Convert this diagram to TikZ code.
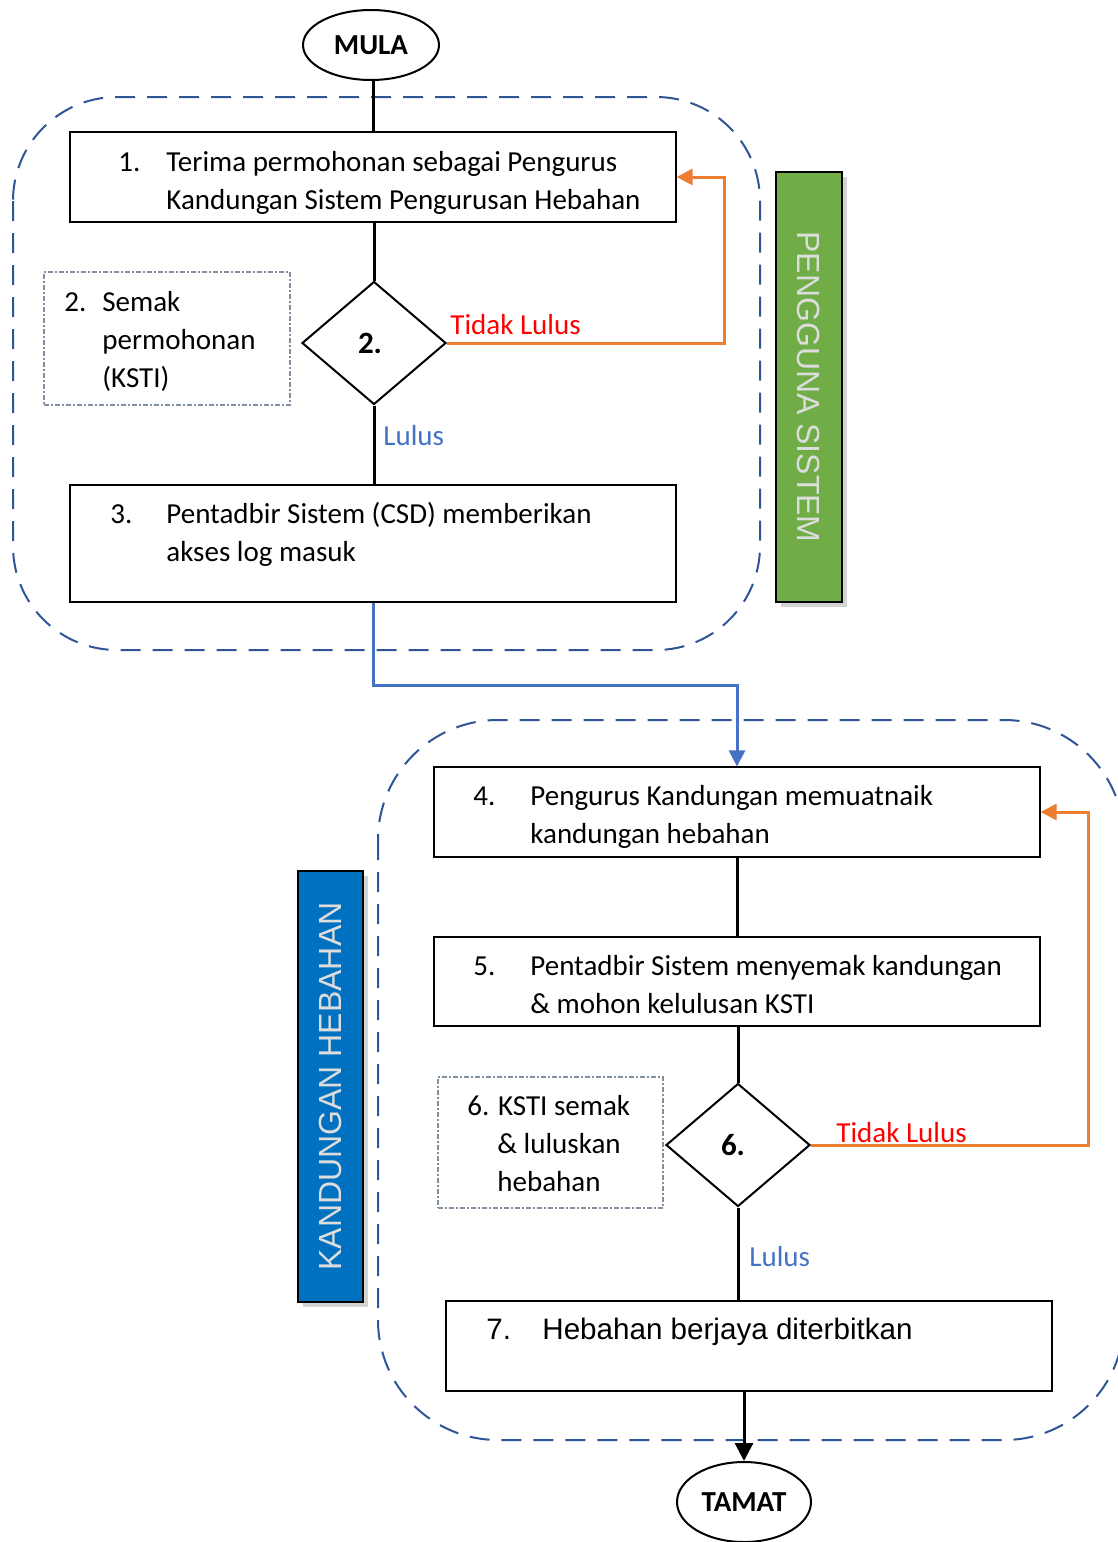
\documentclass[tikz,border=0pt]{standalone}
\usepackage{fontspec}
\setmainfont{Carlito}
\newfontfamily\arialf{Liberation Sans}
\usetikzlibrary{shapes.geometric,arrows.meta,shadows}
\definecolor{dashblue}{HTML}{2F5597}
\definecolor{orangeln}{HTML}{ED7D31}
\definecolor{blueln}{HTML}{4472C4}
\definecolor{greenbox}{HTML}{70AD47}
\definecolor{bluebox}{HTML}{0070C0}
\definecolor{dotgray}{HTML}{8090A0}
\definecolor{lblgray}{HTML}{DDDDDD}
\tikzset{
  body/.style={font=\fontsize{14.5}{19}\selectfont},
  txt/.style={body, anchor=base west, inner sep=0pt, align=left},
  stepbox/.style={draw=black, line width=0.6pt, inner sep=0pt, minimum width=303pt},
  notebox/.style={draw=dotgray, line width=0.6pt, dash pattern=on 2.5pt off 1.2pt on 0.6pt off 1.2pt, inner sep=0pt},
  lanebox/.style={draw=dashblue, line width=1pt, dash pattern=on 10pt off 6pt, rounded corners=52pt},
  decision/.style={diamond, draw=black, line width=1pt, inner sep=0pt, minimum width=72pt, minimum height=61.5pt, font=\fontsize{15.5}{17}\selectfont\bfseries},
  terminal/.style={ellipse, draw=black, line width=1pt, inner sep=0pt, font=\fontsize{14.5}{17}\selectfont\bfseries},
  lanelabel/.style={draw=black, line width=0.8pt, inner sep=0pt, drop shadow={shadow xshift=2.5pt, shadow yshift=-2.5pt, opacity=0.35}},
  lanetext/.style={text=lblgray, font=\arialf\fontsize{16}{18}\selectfont, inner sep=0pt},
  conn/.style={draw=black, line width=1.5pt},
  noflow/.style={draw=orangeln, line width=1.5pt, -{Triangle[length=8pt,width=8pt]}},
  flowblue/.style={draw=blueln, line width=1.5pt, -{Triangle[length=8pt,width=8pt]}},
  yes/.style={text=blueln, body, anchor=base west, inner sep=0pt},
  no/.style={text=red, body, anchor=base west, inner sep=0pt}
}
\begin{document}
\begin{tikzpicture}[x=0.5pt,y=-0.5pt]
\useasboundingbox (0,0) rectangle (1118,1542);
\clip (0,0) rectangle (1118,1542);

% lanes
\draw[lanebox] (13,97) rectangle (760,650);
\draw[lanebox, rounded corners=60pt] (378,720) rectangle (1124,1440);

% terminals
\node[terminal, minimum width=68pt, minimum height=35pt] (mula) at (371,45) {MULA};
\node[terminal, minimum width=67pt, minimum height=40pt] (tamat) at (744,1502) {TAMAT};

% step boxes
\node[stepbox, minimum height=45pt] (b1) at (373,177) {};
\node[stepbox, minimum height=58.5pt] (b3) at (373,543.5) {};
\node[stepbox, minimum height=45pt] (b4) at (737,812) {};
\node[stepbox, minimum height=44.5pt] (b5) at (737,981.5) {};
\node[stepbox, minimum height=45pt] (b7) at (749,1346) {};

% note boxes
\node[notebox, minimum width=123pt, minimum height=66.5pt] (n2) at (167,338.5) {};
\node[notebox, minimum width=112.5pt, minimum height=65.5pt] (n6) at (550.5,1142.5) {};

% decisions
\node[decision] (d2) at (374,343) {\hspace*{-4pt}2.};
\node[decision] (d6) at (738,1145) {\hspace*{-5pt}6.};

% lane labels
\node[lanelabel, fill=greenbox, minimum width=33pt, minimum height=215pt] (g) at (809,387) {};
\node[lanetext, rotate=-90] (gt) at (g.center) {PENGGUNA SISTEM};
\node[lanelabel, fill=bluebox, minimum width=32.5pt, minimum height=215.5pt] (kb) at (330.5,1086.5) {};
\node[lanetext, rotate=90] (kt) at (kb.center) {KANDUNGAN HEBAHAN};

% texts (anchor = baseline of last line)
\node[txt] (t1) at (118,209) {\makebox[24pt][l]{1.}Terima permohonan sebagai Pengurus\\\hspace*{24pt}Kandungan Sistem Pengurusan Hebahan};
\node[txt] (t2) at (64,387) {\makebox[19pt][l]{2.}Semak\\\hspace*{19pt}permohonan\\\hspace*{19pt}(KSTI)};
\node[txt] (t3) at (110,561) {\makebox[28pt][l]{3.}Pentadbir Sistem (CSD) memberikan\\\hspace*{28pt}akses log masuk};
\node[txt] (t4) at (473,843) {\makebox[28.5pt][l]{4.}Pengurus Kandungan memuatnaik\\\hspace*{28.5pt}kandungan hebahan};
\node[txt] (t5) at (473,1013) {\makebox[28.5pt][l]{5.}Pentadbir Sistem menyemak kandungan\\\hspace*{28.5pt}\& mohon kelulusan KSTI};
\node[txt] (t6) at (467,1191) {6. KSTI semak\\\hspace*{15pt}\& luluskan\\\hspace*{15pt}hebahan};
\node[txt, font=\arialf\fontsize{14.8}{17}\selectfont] (t7) at (486,1339) {\makebox[28pt][l]{7.}Hebahan berjaya diterbitkan};

% decision labels
\node[no] (no2) at (450,334) {Tidak Lulus};
\node[yes] (yes2) at (383,445) {Lulus};
\node[no] (no6) at (836,1142) {Tidak Lulus};
\node[yes] (yes6) at (749,1266) {Lulus};

% coordinates
\coordinate (c1) at (724,177);
\coordinate (c2) at (555,685);
\coordinate (c3) at (1088,812);

% connectors
\draw[conn] (mula.south -| b1.north) -- (b1.north);
\draw[conn] (b1.south -| d2.north) -- (d2.north);
\draw[conn] (d2.south) -- (d2.south |- b3.north);
\draw[noflow] (d2.east) -| (c1) -- (b1.east);
\draw[flowblue] (b3.south) |- (c2) -| (b4.north);
\draw[conn] (b4.south) -- (b5.north);
\draw[conn] (b5.south -| d6.north) -- (d6.north);
\draw[conn] (d6.south) -- (d6.south |- b7.north);
\draw[noflow] (d6.east) -| (c3) -- (b4.east);
\draw[conn, -{Triangle[length=9pt,width=9pt]}] (b7.south -| tamat.north) -- (tamat.north);
\end{tikzpicture}
\end{document}
